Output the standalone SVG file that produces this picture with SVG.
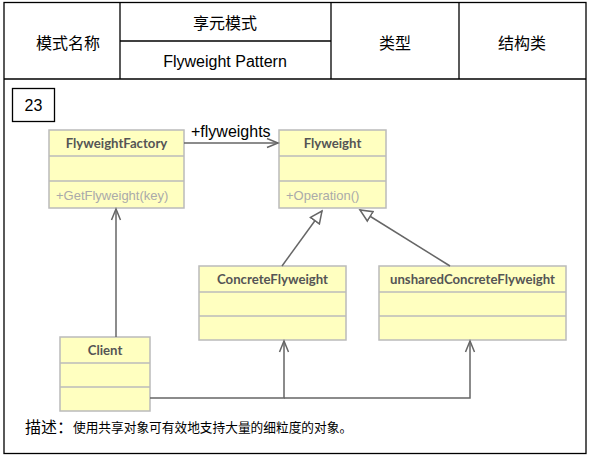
<svg xmlns="http://www.w3.org/2000/svg" width="590" height="459" viewBox="0 0 590 459">
<defs>
<style>
.frame{fill:none;stroke:#000;stroke-width:1.3}
.hdr{font-family:"Liberation Sans","Noto Sans CJK SC",sans-serif;font-size:16px;fill:#000;text-anchor:middle;dominant-baseline:central}
.box{fill:#FFFFC0;stroke:#BBBBBB;stroke-width:1.5}
.div{stroke:#BBBBBB;stroke-width:1.5}
.cname{font-family:Lato,"Liberation Sans",sans-serif;font-weight:bold;font-size:13.2px;fill:#555;text-anchor:middle;dominant-baseline:central}
.meth{font-family:"Liberation Sans",sans-serif;font-size:13px;fill:#AAAAAA;dominant-baseline:central}
.conn{fill:none;stroke:#666;stroke-width:1.5}
</style>
<marker id="open" markerUnits="userSpaceOnUse" markerWidth="14" markerHeight="14" refX="12" refY="6" orient="auto" viewBox="0 0 14 12">
<path d="M1,1.5 L12,6 L1,10.5" fill="none" stroke="#666" stroke-width="1.5"/>
</marker>
<marker id="tri" markerUnits="userSpaceOnUse" markerWidth="16" markerHeight="16" refX="13" refY="7" orient="auto" viewBox="0 0 16 14">
<path d="M1,1.5 L13,7 L1,12.5 Z" fill="#fff" stroke="#666" stroke-width="1.5"/>
</marker>
</defs>
<rect x="0" y="0" width="590" height="459" fill="#fff"/>
<g id="header">
<rect class="frame" x="4" y="2.5" width="582" height="451"/>
<line class="frame" x1="4" y1="79" x2="586" y2="79"/>
<line class="frame" x1="120" y1="2.5" x2="120" y2="79"/>
<line class="frame" x1="331" y1="2.5" x2="331" y2="79"/>
<line class="frame" x1="459" y1="2.5" x2="459" y2="79"/>
<line class="frame" x1="120" y1="41" x2="331" y2="41"/>
<text class="hdr" x="68" y="43">模式名称</text>
<text class="hdr" x="225" y="23">享元模式</text>
<text class="hdr" x="225" y="61">Flyweight Pattern</text>
<text class="hdr" x="395" y="43">类型</text>
<text class="hdr" x="522" y="43">结构类</text>
</g>
<g id="num">
<rect class="frame" x="12.5" y="88.5" width="42" height="33"/>
<text class="hdr" x="33.5" y="105">23</text>
</g>
<g id="FlyweightFactory">
<rect class="box" x="49" y="130" width="135" height="78"/>
<line class="div" x1="49" y1="156" x2="184" y2="156"/>
<line class="div" x1="49" y1="181" x2="184" y2="181"/>
<text class="cname" x="116.5" y="143">FlyweightFactory</text>
<text class="meth" x="56" y="195">+GetFlyweight(key)</text>
</g>
<g id="Flyweight">
<rect class="box" x="279" y="130" width="107" height="78"/>
<line class="div" x1="279" y1="156" x2="386" y2="156"/>
<line class="div" x1="279" y1="181" x2="386" y2="181"/>
<text class="cname" x="332.5" y="143">Flyweight</text>
<text class="meth" x="286" y="195">+Operation()</text>
</g>
<g id="ConcreteFlyweight">
<rect class="box" x="199" y="266" width="147" height="74"/>
<line class="div" x1="199" y1="292" x2="346" y2="292"/>
<line class="div" x1="199" y1="316" x2="346" y2="316"/>
<text class="cname" x="272.5" y="279">ConcreteFlyweight</text>
</g>
<g id="unsharedConcreteFlyweight">
<rect class="box" x="379" y="266" width="187" height="74"/>
<line class="div" x1="379" y1="292" x2="566" y2="292"/>
<line class="div" x1="379" y1="316" x2="566" y2="316"/>
<text class="cname" x="472.5" y="279">unsharedConcreteFlyweight</text>
</g>
<g id="Client">
<rect class="box" x="60" y="337" width="90" height="74"/>
<line class="div" x1="60" y1="363" x2="150" y2="363"/>
<line class="div" x1="60" y1="387" x2="150" y2="387"/>
<text class="cname" x="105" y="350">Client</text>
</g>
<g id="connectors">
<path class="conn" d="M184,143 H278" marker-end="url(#open)"/>
<text x="191" y="137" font-family="Liberation Sans, sans-serif" font-size="16px" fill="#000">+flyweights</text>
<path class="conn" d="M116,337 V209" marker-end="url(#open)"/>
<path class="conn" d="M150,398 H284 V341" marker-end="url(#open)"/>
<path class="conn" d="M284,398 H470 V341" marker-end="url(#open)"/>
<path class="conn" d="M282,266 L322,211" marker-end="url(#tri)"/>
<path class="conn" d="M450,266 L360,210" marker-end="url(#tri)"/>
</g>
<g id="desc">
<text x="25" y="427" font-family="Liberation Sans, Noto Sans CJK SC, sans-serif" font-size="16px" fill="#000" dominant-baseline="central">描述：</text>
<text x="73" y="428" font-family="Liberation Sans, Noto Sans CJK SC, sans-serif" font-size="12.7px" fill="#000" dominant-baseline="central">使用共享对象可有效地支持大量的细粒度的对象。</text>
</g>
</svg>
